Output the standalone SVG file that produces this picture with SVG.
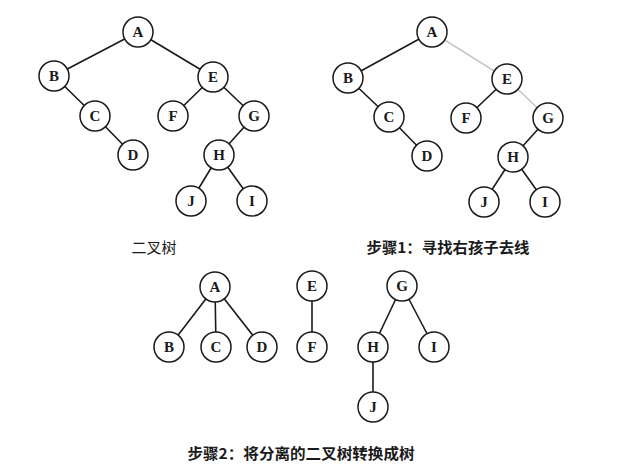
<svg xmlns="http://www.w3.org/2000/svg" width="638" height="466" viewBox="0 0 638 466">
<style>
.n circle{fill:#fff;stroke:#1a1a1a;stroke-width:1.5}
.n text{font-family:"Liberation Serif","DejaVu Serif",serif;font-size:15px;font-weight:bold;fill:#1a1a1a;text-anchor:middle;dominant-baseline:central}
.e line{stroke:#1a1a1a;stroke-width:1.6}
.e line.g{stroke:#c8c8c8}
.cap{font-family:"Noto Sans CJK SC","Liberation Sans",sans-serif;font-size:15px;fill:#1a1a1a;text-anchor:middle;dominant-baseline:central}
.b{font-weight:bold}
</style>
<rect width="638" height="466" fill="#fff"/>
<g id="connectors" class="e">
<!-- tree 1 -->
<line x1="138" y1="32" x2="54" y2="76"/>
<line x1="138" y1="32" x2="213" y2="77"/>
<line x1="54" y1="76" x2="95" y2="116"/>
<line x1="95" y1="116" x2="133" y2="155"/>
<line x1="213" y1="77" x2="173" y2="116"/>
<line x1="213" y1="77" x2="254" y2="116"/>
<line x1="254" y1="116" x2="219" y2="155"/>
<line x1="219" y1="155" x2="191" y2="201"/>
<line x1="219" y1="155" x2="252" y2="201"/>
<!-- tree 2 -->
<line x1="432" y1="32" x2="348" y2="78"/>
<line class="g" x1="432" y1="32" x2="507" y2="79"/>
<line x1="348" y1="78" x2="389" y2="117"/>
<line x1="389" y1="117" x2="427" y2="156"/>
<line x1="507" y1="79" x2="466" y2="118"/>
<line class="g" x1="507" y1="79" x2="548" y2="118"/>
<line x1="548" y1="118" x2="513" y2="157"/>
<line x1="513" y1="157" x2="484" y2="202"/>
<line x1="513" y1="157" x2="545" y2="202"/>
<!-- tree 3 -->
<line x1="215" y1="287" x2="169" y2="347"/>
<line x1="215" y1="287" x2="216" y2="347"/>
<line x1="215" y1="287" x2="262" y2="347"/>
<line x1="312" y1="286" x2="312" y2="347"/>
<line x1="402" y1="286" x2="373" y2="347"/>
<line x1="402" y1="286" x2="434" y2="347"/>
<line x1="373" y1="347" x2="373" y2="407"/>
</g>
<g id="t1A" class="n"><circle cx="138" cy="32" r="15"/><text x="138" y="32">A</text></g>
<g id="t1B" class="n"><circle cx="54" cy="76" r="15"/><text x="54" y="76">B</text></g>
<g id="t1C" class="n"><circle cx="95" cy="116" r="15"/><text x="95" y="116">C</text></g>
<g id="t1D" class="n"><circle cx="133" cy="155" r="15"/><text x="133" y="155">D</text></g>
<g id="t1E" class="n"><circle cx="213" cy="77" r="15"/><text x="213" y="77">E</text></g>
<g id="t1F" class="n"><circle cx="173" cy="116" r="15"/><text x="173" y="116">F</text></g>
<g id="t1G" class="n"><circle cx="254" cy="116" r="15"/><text x="254" y="116">G</text></g>
<g id="t1H" class="n"><circle cx="219" cy="155" r="15"/><text x="219" y="155">H</text></g>
<g id="t1J" class="n"><circle cx="191" cy="201" r="15"/><text x="191" y="201">J</text></g>
<g id="t1I" class="n"><circle cx="252" cy="201" r="15"/><text x="252" y="201">I</text></g>

<g id="t2A" class="n"><circle cx="432" cy="32" r="15"/><text x="432" y="32">A</text></g>
<g id="t2B" class="n"><circle cx="348" cy="78" r="15"/><text x="348" y="78">B</text></g>
<g id="t2C" class="n"><circle cx="389" cy="117" r="15"/><text x="389" y="117">C</text></g>
<g id="t2D" class="n"><circle cx="427" cy="156" r="15"/><text x="427" y="156">D</text></g>
<g id="t2E" class="n"><circle cx="507" cy="79" r="15"/><text x="507" y="79">E</text></g>
<g id="t2F" class="n"><circle cx="466" cy="118" r="15"/><text x="466" y="118">F</text></g>
<g id="t2G" class="n"><circle cx="548" cy="118" r="15"/><text x="548" y="118">G</text></g>
<g id="t2H" class="n"><circle cx="513" cy="157" r="15"/><text x="513" y="157">H</text></g>
<g id="t2J" class="n"><circle cx="484" cy="202" r="15"/><text x="484" y="202">J</text></g>
<g id="t2I" class="n"><circle cx="545" cy="202" r="15"/><text x="545" y="202">I</text></g>

<g id="t3A" class="n"><circle cx="215" cy="287" r="15"/><text x="215" y="287">A</text></g>
<g id="t3B" class="n"><circle cx="169" cy="347" r="15"/><text x="169" y="347">B</text></g>
<g id="t3C" class="n"><circle cx="216" cy="347" r="15"/><text x="216" y="347">C</text></g>
<g id="t3D" class="n"><circle cx="262" cy="347" r="15"/><text x="262" y="347">D</text></g>
<g id="t3E" class="n"><circle cx="312" cy="286" r="15"/><text x="312" y="286">E</text></g>
<g id="t3F" class="n"><circle cx="312" cy="347" r="15"/><text x="312" y="347">F</text></g>
<g id="t3G" class="n"><circle cx="402" cy="286" r="15"/><text x="402" y="286">G</text></g>
<g id="t3H" class="n"><circle cx="373" cy="347" r="15"/><text x="373" y="347">H</text></g>
<g id="t3I" class="n"><circle cx="434" cy="347" r="15"/><text x="434" y="347">I</text></g>
<g id="t3J" class="n"><circle cx="373" cy="407" r="15"/><text x="373" y="407">J</text></g>

<g id="captions">
<text class="cap" x="154" y="246">二叉树</text>
<text class="cap b" x="448" y="246" textLength="163" lengthAdjust="spacingAndGlyphs">步骤1：寻找右孩子去线</text>
<text class="cap b" x="301" y="452" textLength="227" lengthAdjust="spacingAndGlyphs">步骤2：将分离的二叉树转换成树</text>
</g>
</svg>
